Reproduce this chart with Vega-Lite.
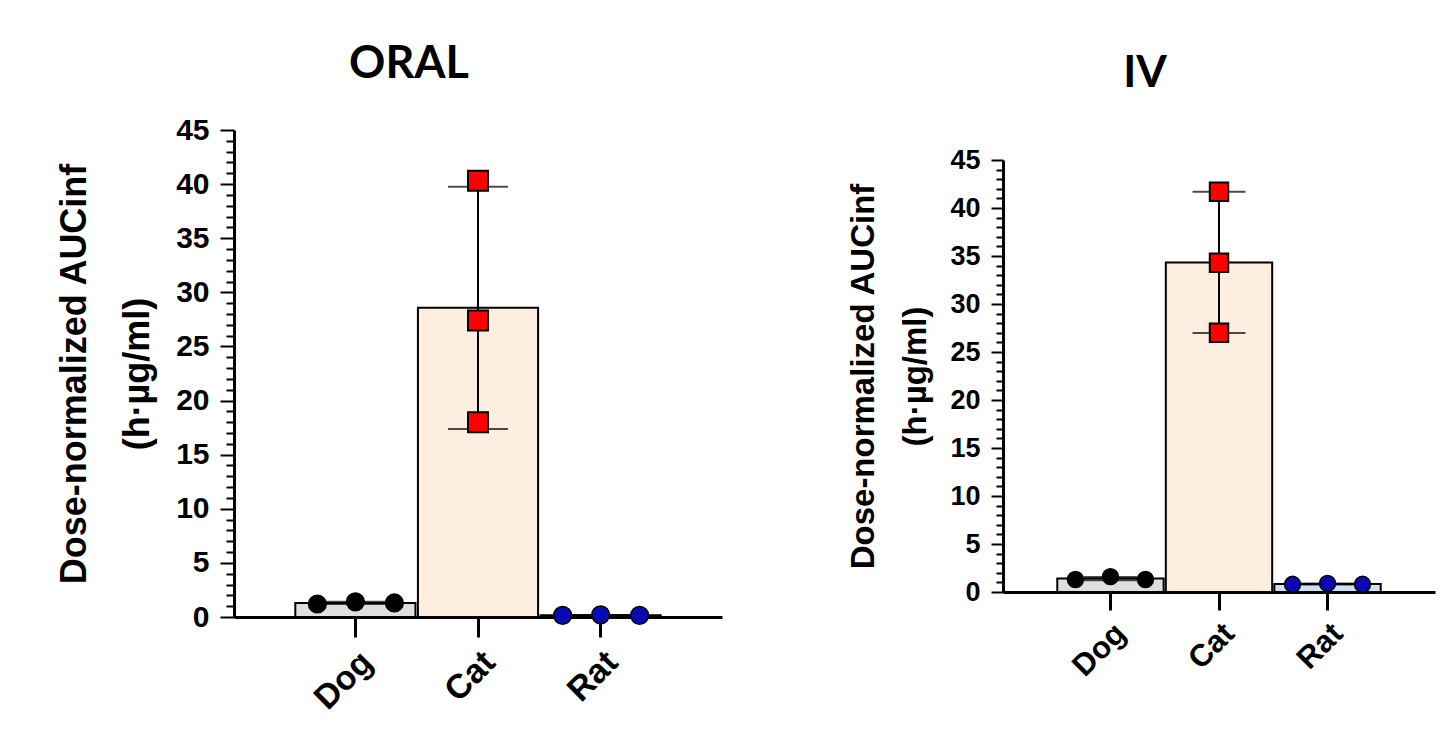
{
  "$schema": "https://vega.github.io/schema/vega-lite/v6.json",
  "padding": {"left": 56, "top": 42, "right": 5, "bottom": 5},
  "background": "white",
  "datasets": {
    "auc": [
      {"route": "ORAL", "species": "Dog", "rep": 1, "value": 1.2},
      {"route": "ORAL", "species": "Dog", "rep": 2, "value": 1.4},
      {"route": "ORAL", "species": "Dog", "rep": 3, "value": 1.3},
      {"route": "ORAL", "species": "Cat", "rep": 1, "value": 40.3},
      {"route": "ORAL", "species": "Cat", "rep": 2, "value": 27.4},
      {"route": "ORAL", "species": "Cat", "rep": 3, "value": 18.0},
      {"route": "ORAL", "species": "Rat", "rep": 1, "value": 0.15},
      {"route": "ORAL", "species": "Rat", "rep": 2, "value": 0.2},
      {"route": "ORAL", "species": "Rat", "rep": 3, "value": 0.15},
      {"route": "IV", "species": "Dog", "rep": 1, "value": 1.3},
      {"route": "IV", "species": "Dog", "rep": 2, "value": 1.6},
      {"route": "IV", "species": "Dog", "rep": 3, "value": 1.3},
      {"route": "IV", "species": "Cat", "rep": 1, "value": 41.7},
      {"route": "IV", "species": "Cat", "rep": 2, "value": 34.3},
      {"route": "IV", "species": "Cat", "rep": 3, "value": 27.0},
      {"route": "IV", "species": "Rat", "rep": 1, "value": 0.8},
      {"route": "IV", "species": "Rat", "rep": 2, "value": 0.9},
      {"route": "IV", "species": "Rat", "rep": 3, "value": 0.8}
    ],
    "blank": [{"a": 1}]
  },
  "spacing": 125,
  "hconcat": [
    {
      "width": 488,
      "height": 487,
      "data": {"name": "auc"},
      "transform": [{"filter": "datum.route === 'ORAL'"}],
      "title": {"text": "ORAL", "font": "Lato", "fontSize": 45, "fontWeight": "bold", "color": "black", "anchor": "middle", "frame": "group", "dx": -69, "offset": 28},
      "encoding": {
        "x": {
          "field": "species", "type": "nominal", "sort": ["Dog", "Cat", "Rat"],
          "scale": {"type": "band", "paddingInner": 0.02, "paddingOuter": 0.5},
          "axis": {"title": null, "labelAngle": -45, "labelFontSize": 34, "tickSize": 20, "tickWidth": 3, "domainWidth": 3, "labelPadding": 8}
        },
        "y": {
          "field": "value", "type": "quantitative",
          "title": ["Dose-normalized AUCinf", "(h·µg/ml)"],
          "scale": {"domain": [0, 45], "nice": false},
          "axis": {
            "titleFontSize": 36, "titleLineHeight": 63, "titlePadding": 19,
            "values": [0,1,2,3,4,5,6,7,8,9,10,11,12,13,14,15,16,17,18,19,20,21,22,23,24,25,26,27,28,29,30,31,32,33,34,35,36,37,38,39,40,41,42,43,44,45],
            "labelExpr": "datum.value % 5 === 0 ? datum.label : ''",
            "tickSize": {"condition": {"test": "datum.value % 5 === 0", "value": 14}, "value": 8},
            "tickWidth": 2, "domainWidth": 3, "labelFontSize": 30, "labelPadding": 11, "labelOverlap": false
          }
        }
      },
      "layer": [
        {
          "transform": [{"aggregate": [{"op": "mean", "field": "value", "as": "value"}], "groupby": ["species"]}],
          "mark": {"type": "bar", "stroke": "black", "strokeWidth": 2},
          "encoding": {
            "fill": {
              "field": "species", "type": "nominal",
              "scale": {"domain": ["Dog", "Cat", "Rat"], "range": ["#dedede", "#fdeee0", "#cfe0f5"]},
              "legend": null
            }
          }
        },
        {
          "mark": {"type": "errorbar", "extent": "stdev", "ticks": true, "size": 60, "thickness": 2, "color": "black"}
        },
        {
          "transform": [{"filter": "datum.species !== 'Cat' && datum.rep === 1"}],
          "mark": {"type": "circle", "size": 314, "opacity": 1, "stroke": "black", "strokeWidth": 1.5, "xOffset": -38},
          "encoding": {
            "color": {"field": "species", "type": "nominal", "scale": {"domain": ["Dog", "Cat", "Rat"], "range": ["#000000", "#ff0000", "#0a0ab4"]}, "legend": null}
          }
        },
        {
          "transform": [{"filter": "datum.species !== 'Cat' && datum.rep === 2"}],
          "mark": {"type": "circle", "size": 314, "opacity": 1, "stroke": "black", "strokeWidth": 1.5},
          "encoding": {
            "color": {"field": "species", "type": "nominal", "scale": {"domain": ["Dog", "Cat", "Rat"], "range": ["#000000", "#ff0000", "#0a0ab4"]}, "legend": null}
          }
        },
        {
          "transform": [{"filter": "datum.species !== 'Cat' && datum.rep === 3"}],
          "mark": {"type": "circle", "size": 314, "opacity": 1, "stroke": "black", "strokeWidth": 1.5, "xOffset": 39},
          "encoding": {
            "color": {"field": "species", "type": "nominal", "scale": {"domain": ["Dog", "Cat", "Rat"], "range": ["#000000", "#ff0000", "#0a0ab4"]}, "legend": null}
          }
        },
        {
          "transform": [{"filter": "datum.species === 'Cat'"}],
          "mark": {"type": "square", "size": 400, "opacity": 1, "stroke": "black", "strokeWidth": 2},
          "encoding": {
            "color": {"field": "species", "type": "nominal", "scale": {"domain": ["Dog", "Cat", "Rat"], "range": ["#000000", "#ff0000", "#0a0ab4"]}, "legend": null}
          }
        }
      ]
    },
    {
      "spacing": 10,
      "vconcat": [
        {
          "width": 432,
          "height": 1,
          "data": {"name": "blank"},
          "title": {"text": "IV", "font": "Lato", "fontSize": 44, "fontWeight": "bold", "color": "black", "anchor": "middle", "frame": "group", "dx": -74, "offset": 29},
          "mark": {"type": "text", "text": ""},
          "encoding": {}
        },
        {
          "width": 432,
          "height": 432,
          "data": {"name": "auc"},
          "transform": [{"filter": "datum.route === 'IV'"}],
          "encoding": {
            "x": {
              "field": "species", "type": "nominal", "sort": ["Dog", "Cat", "Rat"],
              "scale": {"type": "band", "paddingInner": 0.02, "paddingOuter": 0.5},
              "axis": {"title": null, "labelAngle": -45, "labelFontSize": 31, "tickSize": 18, "tickWidth": 3, "domainWidth": 3, "labelPadding": 8}
            },
            "y": {
              "field": "value", "type": "quantitative",
              "title": ["Dose-normalized AUCinf", "(h·µg/ml)"],
              "scale": {"domain": [0, 45], "nice": false},
              "axis": {
                "titleFontSize": 33, "titleLineHeight": 52, "titlePadding": 17,
                "values": [0,1,2,3,4,5,6,7,8,9,10,11,12,13,14,15,16,17,18,19,20,21,22,23,24,25,26,27,28,29,30,31,32,33,34,35,36,37,38,39,40,41,42,43,44,45],
                "labelExpr": "datum.value % 5 === 0 ? datum.label : ''",
                "tickSize": {"condition": {"test": "datum.value % 5 === 0", "value": 12}, "value": 7},
                "tickWidth": 2, "domainWidth": 3, "labelFontSize": 27, "labelPadding": 11, "labelOverlap": false
              }
            }
          },
          "layer": [
            {
              "transform": [{"aggregate": [{"op": "mean", "field": "value", "as": "value"}], "groupby": ["species"]}],
              "mark": {"type": "bar", "stroke": "black", "strokeWidth": 2},
              "encoding": {
                "fill": {
                  "field": "species", "type": "nominal",
                  "scale": {"domain": ["Dog", "Cat", "Rat"], "range": ["#dedede", "#fdeee0", "#cfe0f5"]},
                  "legend": null
                }
              }
            },
            {
              "mark": {"type": "errorbar", "extent": "stdev", "ticks": true, "size": 53, "thickness": 2, "color": "black"}
            },
            {
              "transform": [{"filter": "datum.species !== 'Cat' && datum.rep === 1"}],
              "mark": {"type": "circle", "size": 254, "opacity": 1, "stroke": "black", "strokeWidth": 1.5, "xOffset": -35},
              "encoding": {
                "color": {"field": "species", "type": "nominal", "scale": {"domain": ["Dog", "Cat", "Rat"], "range": ["#000000", "#ff0000", "#0a0ab4"]}, "legend": null}
              }
            },
            {
              "transform": [{"filter": "datum.species !== 'Cat' && datum.rep === 2"}],
              "mark": {"type": "circle", "size": 254, "opacity": 1, "stroke": "black", "strokeWidth": 1.5},
              "encoding": {
                "color": {"field": "species", "type": "nominal", "scale": {"domain": ["Dog", "Cat", "Rat"], "range": ["#000000", "#ff0000", "#0a0ab4"]}, "legend": null}
              }
            },
            {
              "transform": [{"filter": "datum.species !== 'Cat' && datum.rep === 3"}],
              "mark": {"type": "circle", "size": 254, "opacity": 1, "stroke": "black", "strokeWidth": 1.5, "xOffset": 35},
              "encoding": {
                "color": {"field": "species", "type": "nominal", "scale": {"domain": ["Dog", "Cat", "Rat"], "range": ["#000000", "#ff0000", "#0a0ab4"]}, "legend": null}
              }
            },
            {
              "transform": [{"filter": "datum.species === 'Cat'"}],
              "mark": {"type": "square", "size": 340, "opacity": 1, "stroke": "black", "strokeWidth": 2},
              "encoding": {
                "color": {"field": "species", "type": "nominal", "scale": {"domain": ["Dog", "Cat", "Rat"], "range": ["#000000", "#ff0000", "#0a0ab4"]}, "legend": null}
              }
            }
          ]
        }
      ]
    }
  ],
  "config": {
    "font": "Liberation Sans",
    "view": {"stroke": null},
    "axis": {
      "grid": false, "domainColor": "black", "tickColor": "black",
      "labelColor": "black", "titleColor": "black",
      "labelFont": "Liberation Sans", "titleFont": "Liberation Sans",
      "labelFontWeight": "bold", "titleFontWeight": "bold"
    }
  }
}
